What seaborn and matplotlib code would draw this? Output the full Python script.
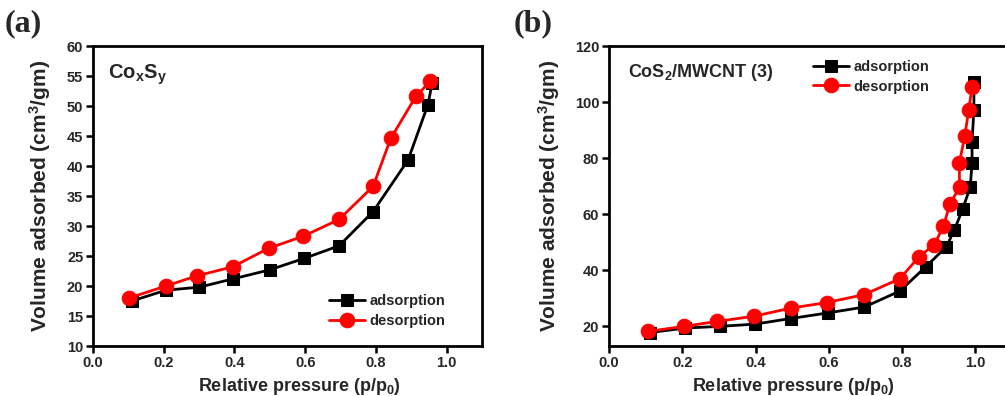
import matplotlib
matplotlib.use("Agg")
import matplotlib.pyplot as plt
import seaborn as sns
import pandas as pd

sns.set_theme(style="ticks")
plt.rcParams['font.family'] = ['Liberation Sans', 'DejaVu Sans']
plt.rcParams['font.weight'] = 'bold'
plt.rcParams['mathtext.fontset'] = 'custom'
plt.rcParams['mathtext.rm'] = 'Liberation Sans:bold'
plt.rcParams['mathtext.bf'] = 'Liberation Sans:bold'
plt.rcParams['mathtext.default'] = 'bf'

# ---- Panel (a): CoxSy ----
a_ads_x = [0.11, 0.206, 0.30, 0.397, 0.50, 0.597, 0.696, 0.792, 0.891, 0.947, 0.959]
a_ads_y = [17.5, 19.3, 19.8, 21.2, 22.7, 24.6, 26.7, 32.4, 41.0, 50.2, 53.8]
a_des_x = [0.102, 0.206, 0.294, 0.395, 0.497, 0.595, 0.696, 0.792, 0.842, 0.914, 0.954]
a_des_y = [18.0, 20.0, 21.7, 23.2, 26.3, 28.3, 31.1, 36.6, 44.6, 51.7, 54.1]

# ---- Panel (b): CoS2/MWCNT (3) ----
b_ads_x = [0.112, 0.207, 0.302, 0.398, 0.496, 0.597, 0.697, 0.794, 0.864, 0.921,
           0.943, 0.965, 0.986, 0.991, 0.991, 0.996, 0.996]
b_ads_y = [17.8, 19.4, 20.0, 20.8, 22.8, 24.8, 26.9, 32.6, 41.2, 48.4,
           54.5, 61.7, 69.7, 78.3, 85.9, 97.3, 107.1]
b_des_x = [0.106, 0.205, 0.296, 0.395, 0.496, 0.594, 0.696, 0.794, 0.846, 0.888,
           0.913, 0.930, 0.957, 0.956, 0.971, 0.982, 0.991]
b_des_y = [18.2, 20.0, 21.8, 23.6, 26.5, 28.5, 31.3, 37.0, 44.8, 49.2,
           55.7, 63.5, 69.7, 78.1, 87.8, 97.3, 105.4]

series_names = ["adsorption", "desorption"]
colors = {"adsorption": "black", "desorption": "#ff0000"}
markers = {"adsorption": "s", "desorption": "o"}
msizes = {"adsorption": 8.5, "desorption": 10.5}

xticks = [0.0, 0.2, 0.4, 0.6, 0.8, 1.0]
xticklabels = ["0.0", "0.2", "0.4", "0.6", "0.8", "1.0"]
a_yticks = list(range(10, 61, 5))
b_yticks = list(range(20, 121, 20))

fig = plt.figure(figsize=(10.05, 3.96), dpi=100)
W, H = 1005, 396
axA = fig.add_axes([93 / W, 50 / H, 389 / W, 300 / H])
axB = fig.add_axes([609 / W, 50 / H, 403 / W, 300 / H])


def draw(ax, ads_x, ads_y, des_x, des_y):
    df = pd.concat([
        pd.DataFrame({"x": ads_x, "y": ads_y, "series": "adsorption"}),
        pd.DataFrame({"x": des_x, "y": des_y, "series": "desorption"}),
    ])
    for name in series_names:
        sub = df[df.series == name]
        sns.lineplot(data=sub, x="x", y="y", ax=ax, sort=False, color=colors[name],
                     marker=markers[name], markersize=msizes[name],
                     markeredgecolor=colors[name], linewidth=2, label=name,
                     estimator=None)
    for sp in ax.spines.values():
        sp.set_linewidth(2)
        sp.set_color("black")
        sp.set_visible(True)
    ax.tick_params(axis="both", direction="out", length=5, width=1.8,
                   labelsize=10.5, color="black", pad=2,
                   top=False, right=False)
    ax.set_xlabel("Relative pressure (p/p$_0$)", fontsize=13, fontweight="bold")
    ax.set_ylabel("Volume adsorbed (cm$^3$/gm)", fontsize=15, fontweight="bold")


draw(axA, a_ads_x, a_ads_y, a_des_x, a_des_y)
axA.set_xlim(0, 1.1)
axA.set_ylim(10, 60)
axA.set_xticks(xticks)
axA.set_yticks(a_yticks)
axA.set_xticklabels(xticklabels, fontweight="bold")
axA.set_yticklabels([str(v) for v in a_yticks], fontweight="bold")
axA.xaxis.set_label_coords(0.53, -0.1)
axA.yaxis.set_label_coords(-0.103, 0.5)
axA.legend(loc="center left", bbox_to_anchor=(0.58, 0.117), frameon=False,
           handlelength=2.5, handletextpad=0.3, labelspacing=0.4,
           borderpad=0.2, prop={"weight": "bold", "size": 10.5})
axA.text(0.039, 0.903, "Co$_x$S$_y$", transform=axA.transAxes, fontsize=14.5,
         fontweight="bold", va="center", ha="left")

draw(axB, b_ads_x, b_ads_y, b_des_x, b_des_y)
axB.set_xlim(0, 1.1)
axB.set_ylim(13, 120)
axB.set_xticks(xticks)
axB.set_yticks(b_yticks)
axB.set_xticklabels(xticklabels, fontweight="bold")
axB.set_yticklabels([str(v) for v in b_yticks], fontweight="bold")
axB.xaxis.set_label_coords(0.457, -0.1)
axB.yaxis.set_label_coords(-0.117, 0.5)
axB.legend(loc="center left", bbox_to_anchor=(0.48, 0.898), frameon=False,
           handlelength=2.5, handletextpad=0.3, labelspacing=0.4,
           borderpad=0.2, prop={"weight": "bold", "size": 10.5})
axB.text(0.047, 0.913, "CoS$_2$/MWCNT (3)", transform=axB.transAxes, fontsize=13,
         fontweight="bold", va="center", ha="left")

fig.text(5 / W, 1 - 24 / H, "(a)", fontsize=23, fontweight="bold",
         family=["Liberation Serif"], va="center", ha="left")
fig.text(514 / W, 1 - 24 / H, "(b)", fontsize=23, fontweight="bold",
         family=["Liberation Serif"], va="center", ha="left")

fig.savefig("out.png", dpi=100)
